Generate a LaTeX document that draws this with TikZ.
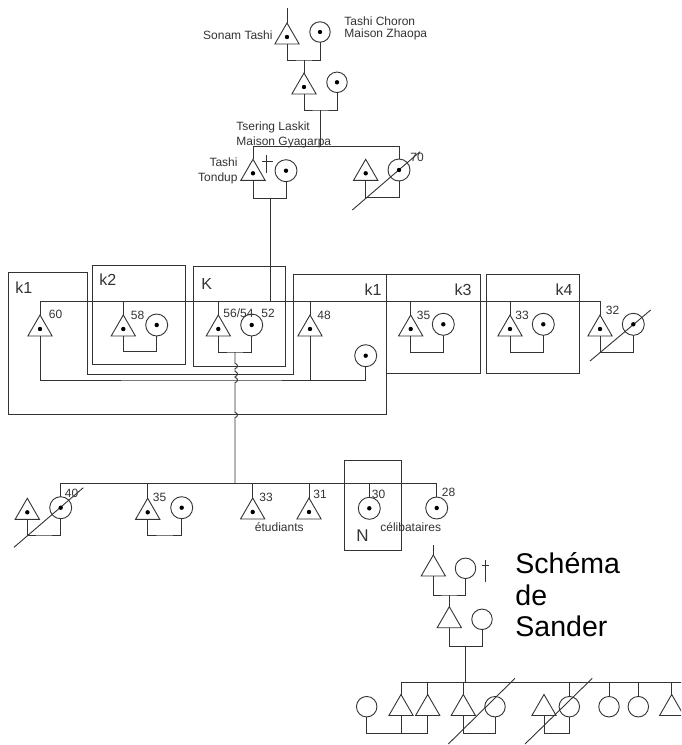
\documentclass[tikz,border=0pt]{standalone}
\usepackage{fontspec}
\setmainfont{Liberation Sans}
\usetikzlibrary{shapes.geometric,calc}
\begin{document}
\begin{tikzpicture}[x=1pt,y=-1pt,line width=0.9pt,color=black!80,
  tri/.style={draw,regular polygon,regular polygon sides=3,minimum size=28pt,inner sep=0pt,outer sep=0pt},
  circ/.style={draw,circle,minimum size=22pt,inner sep=0pt,outer sep=0pt},
  circs/.style={draw,circle,minimum size=20.5pt,inner sep=0pt,outer sep=0pt},
  lbl/.style={font=\fontsize{12}{14}\selectfont,inner sep=0pt},
  klbl/.style={font=\fontsize{16}{18}\selectfont,inner sep=0pt},
  big/.style={font=\fontsize{28.5}{32}\selectfont,inner sep=0pt,text=black}]
\useasboundingbox (0,0) rectangle (681,745);
\clip (0,0) rectangle (681,745);

% ---------------- top generations
\node[tri] (ts) at (287,37) {};
\coordinate (tstop) at (287,8);
\draw (tstop) -- (ts.north);
\node[circs] (tc) at (320,32) {};
\coordinate (m1) at (304,60);
\draw (ts.south) |- (m1) -| (tc.south);
\node[lbl,anchor=base east] (lsonam) at (273,39.3) {Sonam Tashi};
\node[lbl,anchor=base west] (lchoron) at (344,25) {Tashi Choron};
\node[lbl,anchor=base west] (lzhaopa) at (344,37.6) {Maison Zhaopa};

\node[tri] (g2) at (304,87) {};
\draw (m1) -- (g2.north);
\node[circs] (g2w) at (337,82.3) {};
\coordinate (m2) at (320,110);
\draw (g2.south) |- (m2) -| (g2w.south);
\coordinate (s1) at (0,146.7);
\draw (m2) -- (m2 |- s1);
\node[lbl,anchor=base west] (ltsering) at (236,130.3) {Tsering Laskit};
\node[lbl,anchor=base west] (lgyagarpa) at (236,145) {Maison Gyagarpa};

\node[tri] (tt) at (253,173.3) {};
\node[circ] (ttw) at (286,170.7) {};
\node[tri] (b2) at (365.7,173.3) {};
\node[circ] (b2w) at (399,170) {};
\draw (tt.north) -- (tt.north |- s1) -- (b2w.north |- s1) -- (b2w.north);
\coordinate (m3) at (270,198.3);
\draw (tt.south) |- (m3) -| (ttw.south);
\coordinate (m4) at (382,197.3);
\draw (b2.south) |- (m4) -| (b2w.south);
\draw (352.3,210) -- (420,151.7);
\draw (266.7,155) -- (266.7,173.3) (261.7,161.7) -- (272.7,161.7);
\node[lbl,anchor=base east] (ltashi) at (238,166) {Tashi};
\node[lbl,anchor=base east] (ltondup) at (238,181) {Tondup};
\node[lbl,anchor=base west] (l70) at (410,161.3) {70};

% ---------------- boxes
\draw (8.3,272.7) -- (87.3,272.7) -- (87.3,374.3) -- (293.3,374.3) -- (293.3,274.5)
      -- (386,274.5) -- (386,414.5) -- (8.3,414.5) -- cycle;
\draw (92.7,265) rectangle (185.7,364.3);
\draw (193.3,266.7) rectangle (285.7,366);
\draw (386,274.5) rectangle (480,373.3);
\draw (486,274.5) rectangle (579,373.3);
\node[klbl,anchor=base west] (lk1a) at (15,293.5) {k1};
\node[klbl,anchor=base west] (lk2) at (99,285) {k2};
\node[klbl,anchor=base west] (lK) at (201,289.3) {K};
\node[klbl,anchor=base east] (lk1b) at (382,295.3) {k1};
\node[klbl,anchor=base east] (lk3) at (472,295) {k3};
\node[klbl,anchor=base east] (lk4) at (573,295) {k4};

% ---------------- middle generation
\coordinate (s2) at (0,301);
\draw (m3) -- (m3 |- s2);
\node[tri] (a60) at (40,329) {};
\node[tri] (a58) at (123.3,329) {};
\node[circ] (a58w) at (156.7,325) {};
\node[tri] (a56) at (218.3,329) {};
\node[circ] (a56w) at (251.7,325) {};
\node[tri] (a48) at (310,329) {};
\node[circ] (ck1) at (365.7,355.7) {};
\node[tri] (a35) at (410.7,329) {};
\node[circ] (a35w) at (443.3,324.3) {};
\node[tri] (a33) at (510,329) {};
\node[circ] (a33w) at (543.3,324.3) {};
\node[tri] (a32) at (600,329) {};
\node[circ] (a32w) at (633.3,324.3) {};
\draw (a60.north) -- (a60.north |- s2) -- (a32.north |- s2) -- (a32.north);
\foreach \n in {a58,a56,a48,a35,a33} \draw (\n.north) -- (\n.north |- s2);
\coordinate (m5) at (200,380);
\draw (a60.south) |- (m5) -| (ck1.south);
\draw (a48.south) -- (a48.south |- m5);
\coordinate (m6) at (140,351.7);
\draw (a58.south) |- (m6) -| (a58w.south);
\coordinate (m7) at (235,352);
\draw (a56.south) |- (m7) -| (a56w.south);
\coordinate (m8) at (427,352.3);
\draw (a35.south) |- (m8) -| (a35w.south);
\coordinate (m9) at (527,352.3);
\draw (a33.south) |- (m9) -| (a33w.south);
\coordinate (m10) at (617,352.3);
\draw (a32.south) |- (m10) -| (a32w.south);
\draw (590,361) -- (650.7,310);
\node[lbl,anchor=base west] (t60) at (48.5,318.6) {60};
\node[lbl,anchor=base west] (t58) at (130.5,319.3) {58};
\node[lbl,anchor=base west] (t5654) at (223,317) {56/54};
\node[lbl,anchor=base west] (t52) at (261,317) {52};
\node[lbl,anchor=base west] (t48) at (317,319.3) {48};
\node[lbl,anchor=base west] (t35a) at (416.5,319.3) {35};
\node[lbl,anchor=base west] (t33a) at (515,319.3) {33};
\node[lbl,anchor=base west] (t32) at (605.5,314.3) {32};

% ---------------- descent line with bridges
\coordinate (s3) at (0,483.3);
\draw (m7) -- (235,363.5) arc[start angle=-90,end angle=90,radius=2.5]
  -- (235,371.5) arc[start angle=-90,end angle=90,radius=2.5]
  -- (235,377.5) arc[start angle=-90,end angle=90,radius=2.5]
  -- (235,412.5) arc[start angle=-90,end angle=90,radius=2.5]
  -- (m7 |- s3);

% ---------------- lower generation
\node[tri] (la) at (27.3,512.3) {};
\node[circ] (c40) at (60.7,507.7) {};
\node[tri] (l35) at (147.7,512.3) {};
\node[circ] (l35w) at (181.7,507.7) {};
\node[tri] (l33) at (252.7,512) {};
\node[tri] (l31) at (309,512) {};
\node[circ] (c30) at (369.3,508.3) {};
\node[circ] (c28) at (436.7,508) {};
\draw (c40.north) -- (c40.north |- s3) -- (c28.north |- s3) -- (c28.north);
\foreach \n in {l35,l33,l31,c30} \draw (\n.north) -- (\n.north |- s3);
\coordinate (m11) at (44,535);
\draw (la.south) |- (m11) -| (c40.south);
\coordinate (m12) at (165,535);
\draw (l35.south) |- (m12) -| (l35w.south);
\draw (14,547.3) -- (83.3,487.7);
\draw (344.3,460.7) rectangle (401.7,550.7);
\node[klbl,anchor=base west,font=\fontsize{17}{19}\selectfont] (tN) at (356,541.7) {N};
\node[lbl,anchor=base west] (t40) at (64.5,497.6) {40};
\node[lbl,anchor=base west] (t35b) at (152.5,501) {35};
\node[lbl,anchor=base west] (t33b) at (259,501) {33};
\node[lbl,anchor=base west] (t31) at (313,498.3) {31};
\node[lbl,anchor=base west] (t30) at (371.5,498.3) {30};
\node[lbl,anchor=base west] (t28) at (441.5,496) {28};
\node[lbl,anchor=base] (tetud) at (279.3,531.7) {étudiants};
\node[lbl,anchor=base] (tcelib) at (410.7,531) {célibataires};

% ---------------- Schéma de Sander
\node[tri] (r1) at (433.3,569) {};
\coordinate (r1top) at (433.3,545);
\draw (r1top) -- (r1.north);
\node[circs] (r1w) at (465.5,568.3) {};
\draw (485.7,560) -- (485.7,581.7) (482.2,565) -- (489.2,565);
\coordinate (m13) at (449.3,595);
\draw (r1.south) |- (m13) -| (r1w.south);
\node[tri] (r2) at (449.3,620.7) {};
\draw (m13) -- (r2.north);
\node[circs] (r2w) at (482,619.3) {};
\coordinate (m14) at (465.7,646.7);
\draw (r2.south) |- (m14) -| (r2w.south);
\coordinate (s4) at (0,682.7);
\coordinate (s4end) at (695,682.7);
\draw (m14) -- (m14 |- s4);
\node[circs] (ba) at (366.7,706.7) {};
\node[tri] (bb) at (401,708.5) {};
\node[tri] (bc) at (427.7,708.5) {};
\node[tri] (bd) at (463.3,708.5) {};
\node[circs] (be) at (495,706.7) {};
\node[tri] (bf) at (544,708.5) {};
\node[circs] (bg) at (569.3,706.7) {};
\node[circs] (bh) at (609,706.7) {};
\node[circs] (bi) at (638.3,706.7) {};
\node[tri] (bj) at (671.7,708.5) {};
\draw (bb.north) -- (bb.north |- s4) -- (s4end);
\foreach \n in {bc,bd,bg,bh,bi,bj} \draw (\n.north) -- (\n.north |- s4);
\coordinate (m15) at (397,733.3);
\draw (ba.south) |- (m15) -| (bc.south);
\draw (bb.south) -- (bb.south |- m15);
\coordinate (m16) at (479,733.3);
\draw (bd.south) |- (m16) -| (be.south);
\coordinate (m17) at (556,733.3);
\draw (bf.south) |- (m17) -| (bg.south);
\draw (448.3,744) -- (515,678.3);
\draw (525,744) -- (592.3,678.3);
\node[big,anchor=base west] (tschema) at (515,573.3) {Schéma};
\node[big,anchor=base west] (tde) at (515,605) {de};
\node[big,anchor=base west] (tsander) at (515,636.7) {Sander};

% ---------------- dots for ego markers
\foreach \n in {ts,tc,g2,g2w,tt,ttw,b2,b2w,a60,a58,a58w,a56,a56w,a48,ck1,a35,a35w,a33,a33w,a32,a32w,la,c40,l35,l35w,l33,l31,c30,c28}
  \fill[black] (\n.center) circle (2.2);
\end{tikzpicture}
\end{document}
